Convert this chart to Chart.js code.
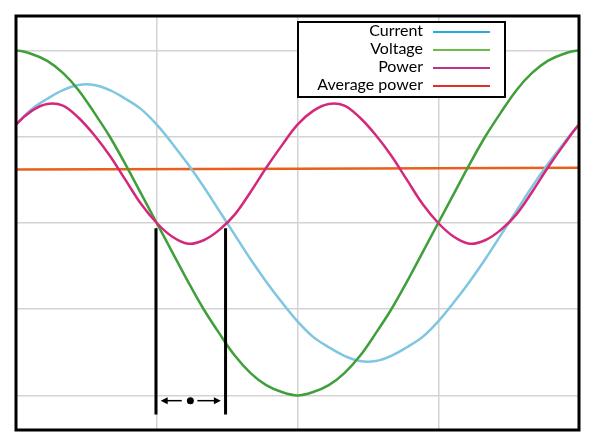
<!DOCTYPE html>
<html>
<head>
<meta charset="utf-8">
<script src="https://cdn.jsdelivr.net/npm/chart.js@4"></script>
<style>
  body { margin: 0; background: #fff; }
  #wrap { width: 595px; height: 444px; }
</style>
</head>
<body>
<div id="wrap"><canvas id="acChart" width="595" height="444"></canvas></div>
<script>
// Phase angle in degrees (a couple of points either side so the curves run smoothly into the frame)
const angles = [-20, -10, 0, 10, 20, 30, 40, 50, 60, 70, 80, 90, 100, 110, 120, 130, 140, 150, 160, 170,
                180, 190, 200, 210, 220, 230, 240, 250, 260, 270, 280, 290, 300, 310, 320, 330, 340, 350,
                360, 370, 380];

const voltage = [0.94, 0.98, 1, 0.98, 0.94, 0.87, 0.77, 0.64, 0.5, 0.34, 0.17, 0, -0.17, -0.34, -0.5,
                 -0.64, -0.77, -0.87, -0.94, -0.98, -1, -0.98, -0.94, -0.87, -0.77, -0.64, -0.5, -0.34,
                 -0.17, 0, 0.17, 0.34, 0.5, 0.64, 0.77, 0.87, 0.94, 0.98, 1, 0.98, 0.94];

const current = [0.34, 0.46, 0.57, 0.66, 0.72, 0.77, 0.80, 0.80, 0.77, 0.72, 0.66, 0.57, 0.46, 0.34,
                 0.21, 0.07, -0.07, -0.21, -0.34, -0.46, -0.57, -0.66, -0.72, -0.77, -0.80, -0.80, -0.77,
                 -0.72, -0.66, -0.57, -0.46, -0.34, -0.21, -0.07, 0.07, 0.21, 0.34, 0.46, 0.57, 0.66, 0.72];

const power = [0.32, 0.45, 0.57, 0.65, 0.69, 0.68, 0.61, 0.51, 0.39, 0.25, 0.11, 0, -0.08, -0.12, -0.10,
               -0.04, 0.05, 0.18, 0.32, 0.45, 0.57, 0.65, 0.69, 0.68, 0.61, 0.51, 0.39, 0.25, 0.11, 0,
               -0.08, -0.12, -0.10, -0.04, 0.05, 0.18, 0.32, 0.45, 0.57, 0.65, 0.69];

const avgAngles = [0, 360];
const avgPower = [0.31, 0.32];

// grid positions
const gridX = [90, 180, 270];
const gridY = [-1, -0.5, 0, 0.5, 1];

// the two marker lines and the phase-shift arrow between them
const markerX = [89.5, 134];
const markerTop = -0.03;
const markerBottom = -1.11;
const arrowY = -1.03;
const arrowLeft = [106, 92.5];
const arrowRight = [116, 131];
const arrowDot = 111.5;

const labels = ['Current', 'Voltage', 'Power', 'Average power'];
const lineColors = ['#7fc6e0', '#3f9f3a', '#d4287c', '#e8601c'];
const legendColors = ['#29a9e1', '#6abd45', '#b9338f', '#e52d27'];

function pts(xs, ys) {
    return xs.map((x, i) => ({ x: x, y: ys[i] }));
}

const datasets = [
    { label: labels[0], data: pts(angles, current), borderColor: lineColors[0], order: 3 },
    { label: labels[1], data: pts(angles, voltage), borderColor: lineColors[1], order: 2 },
    { label: labels[2], data: pts(angles, power), borderColor: lineColors[2], order: 1 },
    { label: labels[3], data: pts(avgAngles, avgPower), borderColor: lineColors[3], order: 4 }
];
markerX.forEach(mx => {
    datasets.push({
        label: '', data: [{ x: mx, y: markerTop }, { x: mx, y: markerBottom }],
        borderColor: '#000', borderWidth: 3, tension: 0, order: 0
    });
});

// frame, arrow and legend
const extras = {
    id: 'extras',
    afterDatasetsDraw(chart) {
        const ctx = chart.ctx;
        const a = chart.chartArea;
        const xs = chart.scales.x, ys = chart.scales.y;
        ctx.save();

        // arrow
        const ay = ys.getPixelForValue(arrowY);
        ctx.strokeStyle = '#000';
        ctx.fillStyle = '#000';
        ctx.lineWidth = 1.5;
        [arrowLeft, arrowRight].forEach(seg => {
            const x0 = xs.getPixelForValue(seg[0]);
            const x1 = xs.getPixelForValue(seg[1]);
            const dir = Math.sign(x1 - x0);
            ctx.beginPath();
            ctx.moveTo(x0, ay);
            ctx.lineTo(x1 - dir * 4, ay);
            ctx.stroke();
            ctx.beginPath();
            ctx.moveTo(x1, ay);
            ctx.lineTo(x1 - dir * 7, ay - 3.5);
            ctx.lineTo(x1 - dir * 7, ay + 3.5);
            ctx.closePath();
            ctx.fill();
        });
        ctx.beginPath();
        ctx.arc(xs.getPixelForValue(arrowDot), ay, 3.5, 0, Math.PI * 2);
        ctx.fill();

        // frame
        ctx.lineWidth = 3;
        ctx.strokeRect(a.left, a.top, a.right - a.left, a.bottom - a.top);

        // legend
        ctx.fillStyle = '#fff';
        ctx.fillRect(298, 22, 207, 75);
        ctx.lineWidth = 2;
        ctx.strokeStyle = '#000';
        ctx.strokeRect(298, 22, 207, 75);
        ctx.font = '16px Lato';
        ctx.textAlign = 'right';
        ctx.textBaseline = 'middle';
        const rows = [31, 49, 67, 85];
        labels.forEach((t, i) => {
            ctx.fillStyle = '#000';
            ctx.fillText(t, 423, rows[i]);
            ctx.strokeStyle = legendColors[i];
            ctx.lineWidth = 2;
            ctx.beginPath();
            ctx.moveTo(433, rows[i] + 1);
            ctx.lineTo(490, rows[i] + 1);
            ctx.stroke();
        });
        ctx.restore();
    }
};

new Chart(document.getElementById('acChart'), {
    type: 'line',
    data: { datasets: datasets },
    options: {
        responsive: false,
        animation: false,
        layout: { padding: { left: 16, top: 16, right: 16, bottom: 14 } },
        elements: {
            point: { radius: 0 },
            line: { borderWidth: 2.5, tension: 0.35, fill: false }
        },
        plugins: { legend: { display: false }, tooltip: { enabled: false } },
        scales: {
            x: {
                type: 'linear', min: 0, max: 360,
                afterBuildTicks: s => { s.ticks = gridX.map(v => ({ value: v })); },
                ticks: { display: false },
                grid: { color: '#d3d3d3', lineWidth: 1.5, drawTicks: false },
                border: { display: false }
            },
            y: {
                type: 'linear', min: -1.2, max: 1.2,
                afterBuildTicks: s => { s.ticks = gridY.map(v => ({ value: v })); },
                ticks: { display: false },
                grid: { color: '#d3d3d3', lineWidth: 1.5, drawTicks: false },
                border: { display: false }
            }
        }
    },
    plugins: [extras]
});
</script>
</body>
</html>
